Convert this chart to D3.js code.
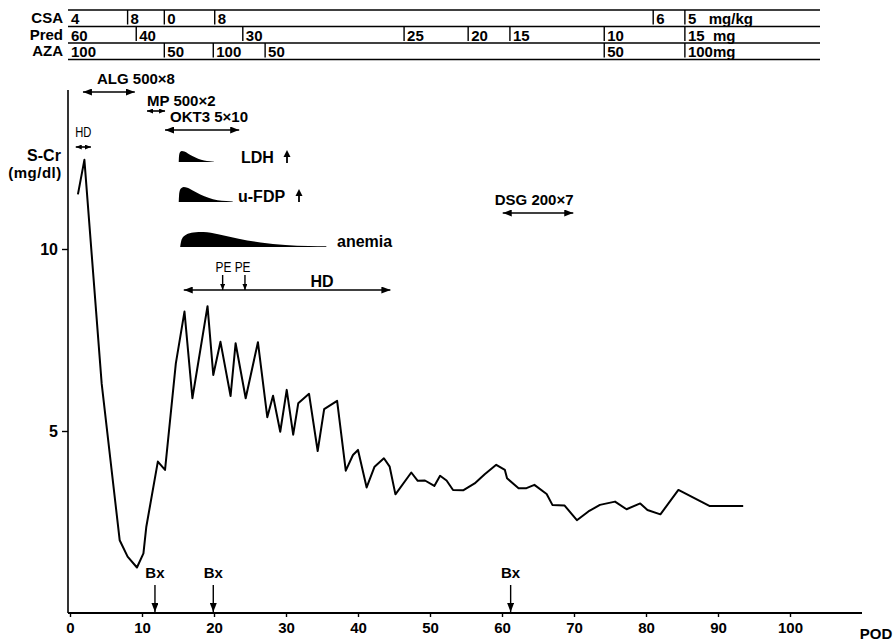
<!DOCTYPE html>
<html>
<head>
<meta charset="utf-8">
<script src="https://cdn.jsdelivr.net/npm/d3@7"></script>
<style>
  body { margin: 0; background: #fff; }
  svg { font-family: "Liberation Sans", Arial, sans-serif; }
</style>
</head>
<body>
<div id="chart"></div>
<script>
// serum creatinine by post-operative day
const pod = [1.1, 2.0, 4.4, 6.9, 8.0, 9.3, 10.2, 10.6, 12.2, 13.2, 14.7, 15.9, 17.0, 19.1, 19.9, 20.9,
  22.3, 23.0, 24.4, 26.1, 27.4, 28.2, 29.2, 30.1, 31.0, 31.7, 33.2, 34.4, 35.3, 37.1, 38.3, 39.3,
  40.0, 41.2, 42.3, 43.6, 44.4, 45.2, 47.4, 48.3, 49.3, 50.6, 51.4, 52.3, 53.2, 54.6, 56.2, 57.6,
  59.2, 60.4, 60.7, 62.3, 63.4, 64.5, 66.2, 67.0, 68.7, 70.4, 72.0, 73.6, 75.7, 77.3, 79.2, 80.2,
  82.0, 84.5, 88.8, 93.5];
const scr = [11.5, 12.45, 6.3, 2.0, 1.55, 1.25, 1.64, 2.37, 4.16, 3.93, 6.86, 8.28, 5.9, 8.43, 6.54, 7.45,
  5.96, 7.41, 5.9, 7.44, 5.38, 5.97, 4.98, 6.13, 4.9, 5.76, 6.02, 4.45, 5.6, 5.83, 3.91, 4.34,
  4.48, 3.45, 4.02, 4.25, 4.02, 3.26, 3.86, 3.63, 3.64, 3.49, 3.77, 3.64, 3.38, 3.37, 3.56, 3.81,
  4.07, 3.93, 3.70, 3.43, 3.43, 3.52, 3.27, 2.97, 2.95, 2.55, 2.79, 2.97, 3.06, 2.85, 3.01, 2.83,
  2.71, 3.38, 2.94, 2.94];

const xTicks = [0, 10, 20, 30, 40, 50, 60, 70, 80, 90, 100];
const yTicks = [5, 10];

// drug table (start day of each dose)
const csaStart = [0, 8, 13.1, 20.1, 81, 85.4];
const csaDose = ["4", "8", "0", "8", "6", "5\u00a0\u00a0 mg/kg"];
const predStart = [0, 9.2, 24, 46.4, 55.3, 61.1, 74.2, 85.4];
const predDose = ["60", "40", "30", "25", "20", "15", "10", "15\u00a0 mg"];
const azaStart = [0, 13.1, 19.9, 27.1, 74.2, 85.4];
const azaDose = ["100", "50", "100", "50", "50", "100mg"];

// treatment periods
const therapyName = ["ALG 500×8", "MP 500×2", "OKT3 5×10", "DSG 200×7"];
const therapyFrom = [1.8, 10.7, 13.2, 60.1];
const therapyTo = [9.0, 13.2, 23.5, 69.9];

const hdFrom = [0.8, 15.8];
const hdTo = [2.9, 44.5];
const peDays = [21.2, 24.3];
const bxDays = [11.8, 19.9, 61.2];

// findings: start/end day and shape profile (relative position, relative height)
const findName = ["LDH", "u-FDP", "anemia"];
const findFrom = [15.1, 15.1, 15.3];
const findTo = [20.0, 22.6, 35.6];
const profileX = [0, 0.01, 0.04, 0.09, 0.16, 0.26, 0.4, 0.55, 0.72, 0.88, 1];
const profileLDH = [0, 0.6, 0.9, 1, 0.95, 0.78, 0.52, 0.3, 0.14, 0.06, 0.03];
const profileFDP = [0, 0.6, 0.9, 1, 0.95, 0.76, 0.5, 0.28, 0.12, 0.06, 0.04];
const profileAnemia = [0, 0.5, 0.82, 0.97, 1, 0.85, 0.55, 0.3, 0.14, 0.07, 0.05];

const width = 894, height = 643;

const svg = d3.select("#chart").append("svg")
  .attr("width", width)
  .attr("height", height);

const x = d3.scaleLinear().domain([0, 100]).range([70, 790]);
const y = d3.scaleLinear().domain([0, 10]).range([613, 249]);

const defs = svg.append("defs");
function marker(id, w, h) {
  defs.append("marker")
    .attr("id", id)
    .attr("viewBox", `0 ${-h / 2} ${w} ${h}`)
    .attr("refX", w).attr("refY", 0)
    .attr("markerWidth", w).attr("markerHeight", h)
    .attr("markerUnits", "userSpaceOnUse")
    .attr("orient", "auto-start-reverse")
    .append("path")
    .attr("d", `M0,${-h / 2}L${w},0L0,${h / 2}Z`)
    .attr("fill", "#000");
}
marker("head", 9, 7);
marker("small", 6, 5);

function arrow(x1, x2, yy, head) {
  svg.append("line")
    .attr("x1", x1).attr("x2", x2)
    .attr("y1", yy).attr("y2", yy)
    .attr("stroke", "#000").attr("stroke-width", 1.6)
    .attr("marker-start", `url(#${head})`)
    .attr("marker-end", `url(#${head})`);
}

// ---- drug table ----
const rowTop = [10, 26.5, 43];
const rowH = 16.5;
const tableL = x(0) - 2, tableR = 820;
const rows = [
  { name: "CSA", start: csaStart, dose: csaDose },
  { name: "Pred", start: predStart, dose: predDose },
  { name: "AZA", start: azaStart, dose: azaDose }
];
const table = svg.append("g");
rowTop.concat([rowTop[2] + rowH]).forEach(t => {
  table.append("line")
    .attr("x1", tableL).attr("x2", tableR)
    .attr("y1", t).attr("y2", t)
    .attr("stroke", "#000").attr("stroke-width", 1.4);
});
rows.forEach((r, i) => {
  const top = rowTop[i];
  table.append("text")
    .attr("x", 63).attr("y", top + 13)
    .attr("text-anchor", "end")
    .style("font-size", "15px").style("font-weight", "bold")
    .text(r.name);
  r.start.forEach((s, j) => {
    const px = j === 0 ? tableL : x(s);
    if (j > 0) {
      table.append("line")
        .attr("x1", px).attr("x2", px)
        .attr("y1", top).attr("y2", top + rowH - 2)
        .attr("stroke", "#000").attr("stroke-width", 1.4);
    }
    table.append("text")
      .attr("x", px + 3).attr("y", top + 14)
      .style("font-size", "15px").style("font-weight", "bold")
      .text(r.dose[j]);
  });
});

// ---- axes ----
svg.append("line")
  .attr("x1", x(0) - 2).attr("x2", x(110))
  .attr("y1", y(0)).attr("y2", y(0))
  .attr("stroke", "#000").attr("stroke-width", 2);
svg.append("line")
  .attr("x1", x(0) - 2).attr("x2", x(0) - 2)
  .attr("y1", y(0)).attr("y2", y(14.37))
  .attr("stroke", "#000").attr("stroke-width", 1.6);

const xAxis = svg.append("g")
  .attr("transform", `translate(0,${y(0)})`)
  .call(d3.axisBottom(x).tickValues(xTicks).tickSize(4).tickPadding(5));
xAxis.select(".domain").remove();
xAxis.selectAll("line").attr("stroke-width", 1.4);
xAxis.selectAll("text")
  .style("font-size", "15px").style("font-weight", "bold")
  .style("font-family", "Liberation Sans, Arial, sans-serif");

const yAxis = svg.append("g")
  .attr("transform", `translate(${x(0) - 2},0)`)
  .call(d3.axisLeft(y).tickValues(yTicks).tickSize(6).tickPadding(4));
yAxis.select(".domain").remove();
yAxis.selectAll("line").attr("stroke-width", 1.4);
yAxis.selectAll("text")
  .style("font-size", "16px").style("font-weight", "bold")
  .style("font-family", "Liberation Sans, Arial, sans-serif");

svg.append("text")
  .attr("x", 876).attr("y", 639)
  .attr("text-anchor", "middle")
  .style("font-size", "15px").style("font-weight", "bold")
  .text("POD");

svg.append("text")
  .attr("x", 44).attr("y", 161)
  .attr("text-anchor", "middle")
  .style("font-size", "16px").style("font-weight", "bold")
  .text("S-Cr");
svg.append("text")
  .attr("x", 35).attr("y", 178)
  .attr("text-anchor", "middle")
  .style("font-size", "15px").style("font-weight", "bold")
  .style("letter-spacing", "0.5px")
  .text("(mg/dl)");

// ---- S-Cr line ----
const series = pod.map((d, i) => [d, scr[i]]);
svg.append("path")
  .datum(series)
  .attr("fill", "none")
  .attr("stroke", "#000")
  .attr("stroke-width", 2)
  .attr("stroke-linejoin", "round")
  .attr("d", d3.line().x(d => x(d[0])).y(d => y(d[1])));

// ---- treatments ----
const therapyY = [92, 111, 130, 213];
therapyName.forEach((name, i) => {
  const small = name.startsWith("MP");
  arrow(x(therapyFrom[i]), x(therapyTo[i]), therapyY[i], small ? "small" : "head");
  const tx = small ? x(therapyFrom[i]) : x(therapyFrom[i]) + (name.startsWith("ALG") ? 14 : name.startsWith("OKT3") ? 5 : -8);
  svg.append("text")
    .attr("x", tx).attr("y", therapyY[i] - (small ? 5 : 8))
    .style("font-size", "15px").style("font-weight", "bold")
    .text(name);
});

// HD periods
arrow(x(hdFrom[0]), x(hdTo[0]), 147, "small");
const hdx = x((hdFrom[0] + hdTo[0]) / 2);
svg.append("text")
  .attr("x", hdx).attr("y", 137)
  .attr("text-anchor", "middle")
  .style("font-size", "14px")
  .attr("transform", `translate(${hdx},0) scale(0.8,1) translate(${-hdx},0)`)
  .text("HD");
arrow(x(hdFrom[1]), x(hdTo[1]), 290, "head");
svg.append("text")
  .attr("x", 322).attr("y", 287)
  .attr("text-anchor", "middle")
  .style("font-size", "16px").style("font-weight", "bold")
  .text("HD");

// PE
peDays.forEach(d => {
  svg.append("line")
    .attr("x1", x(d)).attr("x2", x(d))
    .attr("y1", 275).attr("y2", 290)
    .attr("stroke", "#000").attr("stroke-width", 1.4)
    .attr("marker-end", "url(#small)");
});
svg.append("text")
  .attr("x", 233).attr("y", 272)
  .attr("text-anchor", "middle")
  .style("font-size", "14px")
  .attr("transform", "translate(233,0) scale(0.85,1) translate(-233,0)")
  .text("PE PE");

// Bx
bxDays.forEach(d => {
  svg.append("line")
    .attr("x1", x(d)).attr("x2", x(d))
    .attr("y1", 585).attr("y2", y(0) - 1)
    .attr("stroke", "#000").attr("stroke-width", 1.4)
    .attr("marker-end", "url(#head)");
  svg.append("text")
    .attr("x", x(d)).attr("y", 578)
    .attr("text-anchor", "middle")
    .style("font-size", "15px").style("font-weight", "bold")
    .text("Bx");
});

// ---- findings ----
const findBase = [162, 202, 247];
const findH = [11, 15, 15];
const profiles = [profileLDH, profileFDP, profileAnemia];
findName.forEach((name, i) => {
  const fx = d3.scaleLinear().domain([0, 1]).range([x(findFrom[i]), x(findTo[i])]);
  const area = d3.area()
    .x(d => fx(d[0]))
    .y0(findBase[i])
    .y1(d => findBase[i] - d[1] * findH[i])
    .curve(d3.curveMonotoneX);
  svg.append("path")
    .datum(profileX.map((p, j) => [p, profiles[i][j]]))
    .attr("fill", "#000")
    .attr("d", area);
});
const findLabelX = [241, 238, 337];
const findLabelY = [163, 202, 247];
findName.forEach((name, i) => {
  svg.append("text")
    .attr("x", findLabelX[i]).attr("y", findLabelY[i])
    .style("font-size", "16px").style("font-weight", "bold")
    .text(name);
  if (i < 2) {
    // upward arrow after the label
    const ax = i === 0 ? 287 : 299;
    const ay = findLabelY[i];
    svg.append("line")
      .attr("x1", ax).attr("x2", ax)
      .attr("y1", ay).attr("y2", ay - 7)
      .attr("stroke", "#000").attr("stroke-width", 1.8);
    svg.append("path")
      .attr("d", `M${ax - 3.5},${ay - 6}L${ax},${ay - 13}L${ax + 3.5},${ay - 6}Z`)
      .attr("fill", "#000");
  }
});
</script>
</body>
</html>
